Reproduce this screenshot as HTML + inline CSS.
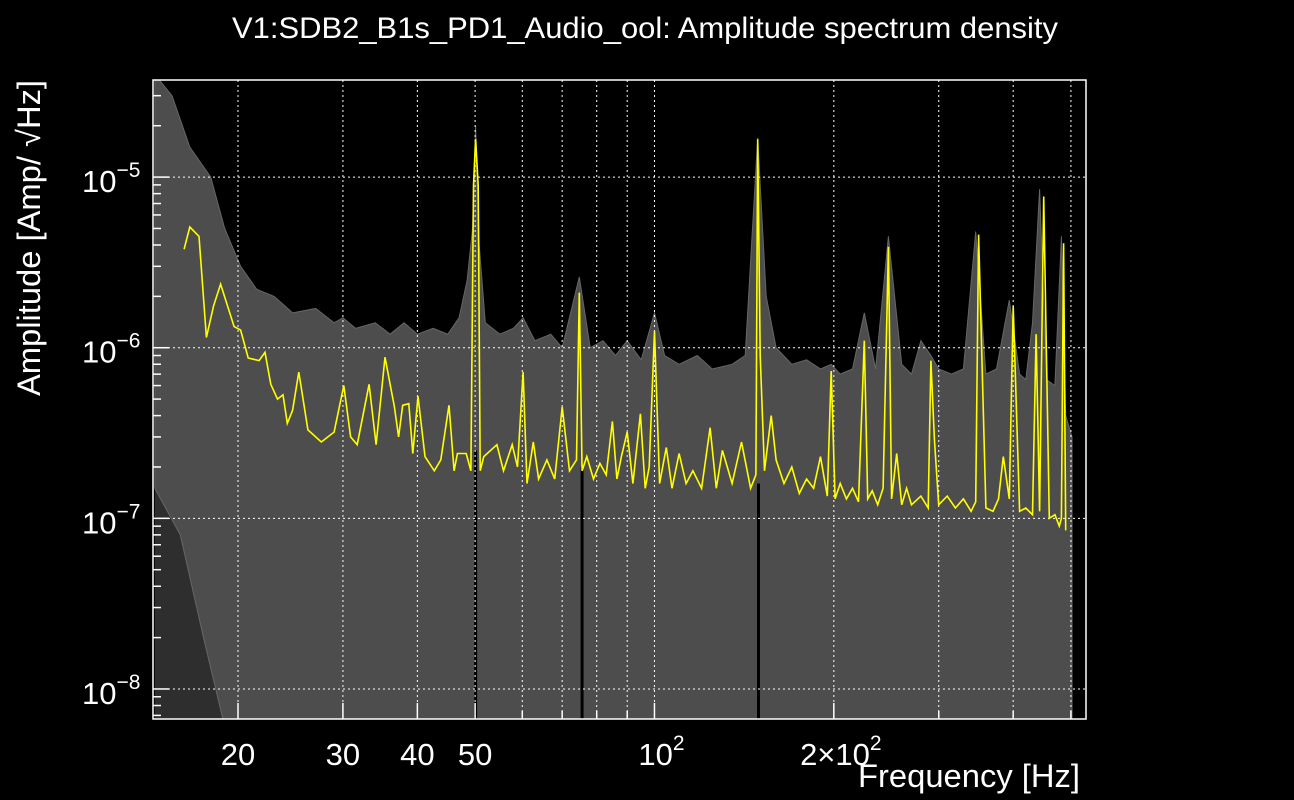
<!DOCTYPE html>
<html><head><meta charset="utf-8"><style>
html,body{margin:0;padding:0;background:#000;}
svg{display:block;font-family:"Liberation Sans",sans-serif;}
</style></head><body>
<svg id="chart" width="1294" height="800" viewBox="0 0 1294 800">
<rect x="0" y="0" width="1294" height="800" fill="#000"/>
<text x="645" y="38" fill="#fff" font-size="30" text-anchor="middle" textLength="826" lengthAdjust="spacingAndGlyphs">V1:SDB2_B1s_PD1_Audio_ool: Amplitude spectrum density</text>
<g id="plot"></g>
<text x="1080" y="787" fill="#fff" font-size="32" text-anchor="end" textLength="222" lengthAdjust="spacingAndGlyphs">Frequency [Hz]</text>
<g transform="translate(40,396) rotate(-90)">
<text x="0" y="0" fill="#fff" font-size="32" textLength="316" lengthAdjust="spacingAndGlyphs">Amplitude [Amp/ √Hz]</text>
</g>
</svg>
<script>
// ---- data ----
const yellowFreq = [16.24,16.6,17.2,17.7,18.2,18.7,19.7,20.2,20.8,21.7,22.2,22.7,23.3,23.8,24.2,24.7,25.3,26.2,27.6,29,30.1,30.9,31.7,33.2,34.1,35.3,36.6,37.2,37.8,38.7,39.3,40.1,41.2,42.7,43.8,45.2,46.1,46.7,48.3,49.2,49.7,50.1,50.6,51,51.7,54.4,55.8,57.7,58.9,60.2,61.1,62.6,63.9,66,68,70,72,74,74.8,75.6,77,79,81,83,85,86.5,88,90,92,94.7,96.5,98,100,102,104.7,107,110,113,116,120,124,127,130,135,140,145,148,149,150.5,153,157,160,165,170,175,180,185,190,195,198,201,205,210,215,220,225,228,232,237,242,247,250,255,260,265,270,280,288,291,295,300,310,320,330,340,346,350,360,370,378,385,394,400,410,420,431,437,443,450,460,470,478,482,486,490];
const yellowAmp = [3.78e-6,5.1e-6,4.5e-6,1.15e-6,1.76e-6,2.36e-6,1.33e-6,1.27e-6,8.7e-7,8.4e-7,9.4e-7,6.1e-7,5e-7,5.3e-7,3.6e-7,4.3e-7,7.2e-7,3.3e-7,2.8e-7,3.2e-7,6e-7,3e-7,2.7e-7,6.1e-7,2.7e-7,8.8e-7,4.5e-7,3e-7,4.6e-7,4.7e-7,2.4e-7,5.2e-7,2.3e-7,1.9e-7,2.2e-7,4.6e-7,1.9e-7,2.4e-7,2.4e-7,1.9e-7,9e-6,1.67e-5,9e-6,1.9e-7,2.3e-7,2.7e-7,1.9e-7,2.7e-7,2e-7,7.2e-7,1.6e-7,2.8e-7,1.7e-7,2.2e-7,1.7e-7,4.5e-7,1.9e-7,2.2e-7,2.1e-6,1.9e-7,2.3e-7,1.7e-7,2.1e-7,1.8e-7,3.7e-7,1.7e-7,2.3e-7,3.2e-7,1.6e-7,4.1e-7,1.5e-7,2e-7,1.25e-6,1.6e-7,2.6e-7,1.5e-7,2.4e-7,1.6e-7,1.9e-7,1.5e-7,3.4e-7,1.5e-7,2.5e-7,1.6e-7,2.8e-7,1.5e-7,1.8e-7,1.67e-5,9e-7,1.9e-7,4e-7,2.2e-7,1.6e-7,2e-7,1.4e-7,1.7e-7,1.5e-7,2.3e-7,1.35e-7,7.3e-7,1.3e-7,1.6e-7,1.3e-7,1.5e-7,1.25e-7,1.1e-6,1.3e-7,1.45e-7,1.2e-7,1.5e-7,3.9e-6,1.3e-7,2.4e-7,1.2e-7,1.5e-7,1.2e-7,1.35e-7,1.15e-7,8.4e-7,2.9e-7,1.2e-7,1.35e-7,1.15e-7,1.3e-7,1.1e-7,1.25e-7,4.6e-6,1.15e-7,1.1e-7,1.3e-7,2.3e-7,1.3e-7,1.75e-6,1.1e-7,1.15e-7,1.05e-7,1.2e-6,1.1e-7,7.7e-6,1e-7,1.05e-7,9e-8,1e-7,4.1e-6,8.5e-8,1e-7];
const envFreq = [14.5,15.5,16.6,18,19,20.2,21.5,23,24.7,27,29,30,31.5,34,36,38,40,42.5,45,47,48.5,49.5,50.1,50.8,52,55,58,60.2,63,67,70,74.8,78,82,86,90,95,100,104,110,118,125,135,142,149,154,160,170,180,190,198,205,215,225,235,247,260,270,280,291,300,315,330,346,360,375,394,410,420,431,443,455,470,482,490,502];
const envUpper = [4e-5,3e-5,1.5e-5,1e-5,5e-6,3e-6,2.2e-6,2e-6,1.6e-6,1.7e-6,1.4e-6,1.5e-6,1.3e-6,1.4e-6,1.2e-6,1.4e-6,1.2e-6,1.3e-6,1.2e-6,1.5e-6,2.5e-6,5e-6,2e-5,4e-6,1.4e-6,1.2e-6,1.3e-6,1.5e-6,1.1e-6,1.2e-6,1e-6,2.6e-6,1e-6,1.1e-6,9e-7,1.1e-6,8.5e-7,1.6e-6,9e-7,8e-7,9e-7,7.5e-7,8e-7,9e-7,1.7e-5,2e-6,1e-6,8e-7,8.5e-7,7.5e-7,8e-7,7e-7,7.5e-7,1.6e-6,7.5e-7,4.5e-6,8e-7,7e-7,1.1e-6,9e-7,7.5e-7,7e-7,7.5e-7,4.8e-6,7e-7,7.5e-7,1.9e-6,7e-7,6.5e-7,1.4e-6,8.5e-6,6.5e-7,6e-7,4.5e-6,4e-7,3e-7];
const envLowF = [14.5,16,17.5,19];
const envLowA = [1.5e-7,8e-8,2e-8,6e-9];
const notchFreq = [50.1,75.6,149.5];
const notchAmp = [2.5e-7,2e-7,1.6e-7];
const xGridTicks = [20,30,40,50,60,70,80,90,100,200,300,400,500];
const xLabelTicks = [20,30,40,50,100,200];
const xLabelText = ["20","30","40","50","10|2","2×10|2"];
const yDecades = [-8,-7,-6,-5];

// ---- axes ----
const L=153,R=1086,T=80,B=719;
const fMin=14.4, fMax=530, aMin=Math.pow(10,-8.176), aMax=Math.pow(10,-4.431);
const X=f=>L+(Math.log10(f)-Math.log10(fMin))/(Math.log10(fMax)-Math.log10(fMin))*(R-L);
const Y=a=>B-(Math.log10(a)-Math.log10(aMin))/(Math.log10(aMax)-Math.log10(aMin))*(B-T);
const NS="http://www.w3.org/2000/svg";
const plot=document.getElementById('plot');
const svg=document.getElementById('chart');
function mk(tag,attrs,parent){const e=document.createElementNS(NS,tag);for(const k in attrs)e.setAttribute(k,attrs[k]);(parent||plot).appendChild(e);return e;}

const defs=mk('defs',{},svg);
const cp=mk('clipPath',{id:'clip'},defs);
mk('rect',{x:L,y:T,width:R-L,height:B-T},cp);
const g=mk('g',{'clip-path':'url(#clip)'});



// dim low-frequency region below band
let ld='M'+X(envLowF[0]).toFixed(1)+','+Y(envLowA[0]).toFixed(1);
for(let i=1;i<envLowF.length;i++) ld+=' L'+X(envLowF[i]).toFixed(1)+','+Y(envLowA[i]).toFixed(1);
ld+=' L'+X(envLowF[0]).toFixed(1)+','+B+' Z';
const low=mk('path',{d:ld,fill:'#2e2e2e'},g);



// gray envelope band
let d='M'+X(envFreq[0])+','+Y(envUpper[0]);
for(let i=1;i<envFreq.length;i++) d+=' L'+X(envFreq[i]).toFixed(1)+','+Y(envUpper[i]).toFixed(1);
d+=' L'+X(envFreq[envFreq.length-1]).toFixed(1)+','+B;
d+=' L'+X(envLowF[envLowF.length-1]).toFixed(1)+','+B;
for(let i=envLowF.length-1;i>=0;i--) d+=' L'+X(envLowF[i]).toFixed(1)+','+Y(envLowA[i]).toFixed(1);
d+=' Z';
const band=mk('path',{d:d,fill:'#4d4d4d',stroke:'#666','stroke-width':1},g);



// notches
notchFreq.forEach((f,i)=>{
  const n=mk('line',{x1:X(f),x2:X(f),y1:Y(notchAmp[i]),y2:B,stroke:'#000','stroke-width':3},g);
  
  
});

// grid
yDecades.forEach(p=>{
  const l=mk('line',{x1:L,x2:R,y1:Y(Math.pow(10,p)),y2:Y(Math.pow(10,p)),stroke:'#fff','stroke-width':1,'stroke-dasharray':'2,3'},g);
  
  
});
xGridTicks.forEach(f=>{
  const l=mk('line',{x1:X(f),x2:X(f),y1:T,y2:B,stroke:'#fff','stroke-width':1,'stroke-dasharray':'2,3'},g);
  
  
});

// yellow series
let pd='';
yellowFreq.forEach((f,i)=>{pd+=(i?' L':'M')+X(f).toFixed(1)+','+Y(yellowAmp[i]).toFixed(1);});
const yl=mk('path',{d:pd,fill:'none',stroke:'#ffff00','stroke-width':1.6,'stroke-linejoin':'miter'},g);



// frame
const fr=mk('rect',{x:L,y:T,width:R-L,height:B-T,fill:'none',stroke:'#fff','stroke-width':1.5});



// y ticks & labels
for(let p=-9;p<=-4;p++){
  for(let m=1;m<10;m++){
    const a=m*Math.pow(10,p); if(a<aMin||a>aMax) continue;
    const len=m===1?16:8;
    const t=mk('line',{x1:L,x2:L+len,y1:Y(a),y2:Y(a),stroke:'#fff','stroke-width':1.5});
    
    
  }
}
yDecades.forEach(p=>{
  const t=mk('text',{x:82,y:Y(Math.pow(10,p))+15,fill:'#fff','font-size':31});
  
  
  t.textContent='10';
  const s=mk('tspan',{dy:-15,'font-size':21},t);
  s.textContent='−'+(-p);
});

// x ticks & labels
xGridTicks.forEach(f=>{
  const t=mk('line',{x1:X(f),x2:X(f),y1:B,y2:B-(xLabelTicks.includes(f)?16:8),stroke:'#fff','stroke-width':1.5});
  
  
});
xLabelTicks.forEach((f,i)=>{
  const parts=xLabelText[i].split('|');
  const t=mk('text',{x:X(f),y:765,fill:'#fff','font-size':31,'text-anchor':'middle'});
  
  
  t.textContent=parts[0];
  if(parts[1]){const s=mk('tspan',{dy:-15,'font-size':21},t);s.textContent=parts[1];t.setAttribute('x',X(f)+7);}
});
</script>
</body></html>
